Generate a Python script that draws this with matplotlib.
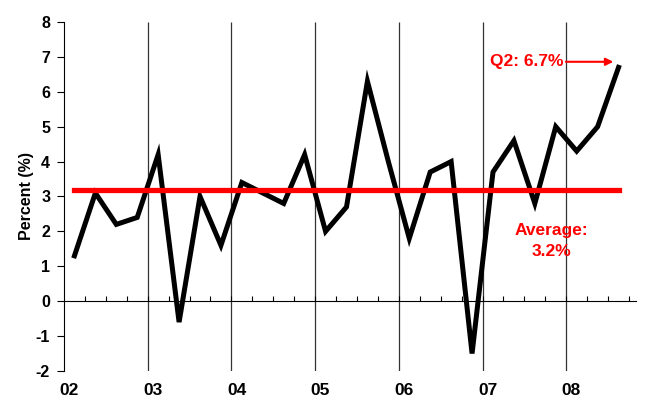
import numpy as np
import matplotlib.pyplot as plt

plt.rcParams['font.family'] = ['Liberation Sans', 'DejaVu Sans']
plt.rcParams['font.weight'] = 'bold'
plt.rcParams['axes.unicode_minus'] = False

# quarterly growth, percent
growth = [1.3, 3.1, 2.2, 2.4,
          4.2, -0.6, 3.0, 1.6,
          3.4, 3.1, 2.8, 4.2,
          2.0, 2.7, 6.3, 4.0,
          1.8, 3.7, 4.0, -1.5,
          3.7, 4.6, 2.8, 5.0,
          4.3, 5.0, 6.7]
average = 3.2
year_labels = ['02', '03', '04', '05', '06', '07', '08']

n = len(growth)
x = np.arange(n) + 0.5          # points sit in the middle of each quarter
year_pos = np.arange(len(year_labels)) * 4

fig = plt.figure(figsize=(6.45, 4.05), dpi=100)
ax = fig.add_axes([0.0992, 0.084, 0.8864, 0.8617])

# year separators
ax.vlines(year_pos[1:], -2, 8, color='#333333', lw=0.9, zorder=1)

ax.plot(x, growth, color='black', lw=3.6, solid_joinstyle='miter', zorder=3)
ax.plot([x[0], x[-1]], [average, average], color='#ff0000', lw=3.8, zorder=4)

ax.set_xlim(0, 27.32)
ax.set_ylim(-2, 8)
ax.set_yticks(range(-2, 9))
ax.tick_params(axis='y', direction='out', length=5, width=0.8, labelsize=11.5, pad=5)
for t in ax.get_yticklabels():
    t.set_fontweight('bold')
ax.set_ylabel('Percent (%)', fontsize=11.5, fontweight='bold', labelpad=1)

# x axis line crossing at zero with quarter ticks
for s in ['top', 'right']:
    ax.spines[s].set_visible(False)
ax.spines['left'].set_linewidth(0.8)
ax.spines['bottom'].set_position(('data', 0))
ax.spines['bottom'].set_linewidth(0.8)
ax.set_xticks(np.arange(1, 28))
ax.tick_params(axis='x', direction='in', length=3.5, width=0.8, labelbottom=False)

# year labels along the bottom
sec = ax.secondary_xaxis('bottom')
sec.set_xticks(year_pos + 0.25)
sec.set_xticklabels(year_labels, fontsize=12.5, fontweight='bold')
sec.tick_params(length=0, pad=9)
sec.spines['bottom'].set_visible(False)

ax.annotate('Q2: 6.7%', xy=(26.25, 6.86), xytext=(23.85, 6.86),
            ha='right', va='center', color='#ff0000', fontsize=12.5, fontweight='bold',
            arrowprops=dict(arrowstyle='-|>', color='#ff0000', lw=1.5,
                            shrinkA=0, shrinkB=0, mutation_scale=11))
ax.text(23.3, 1.73, 'Average:\n3.2%', ha='center', va='center', color='#ff0000',
        fontsize=12.5, fontweight='bold', linespacing=1.45)

fig.savefig('out.png', dpi=100)
